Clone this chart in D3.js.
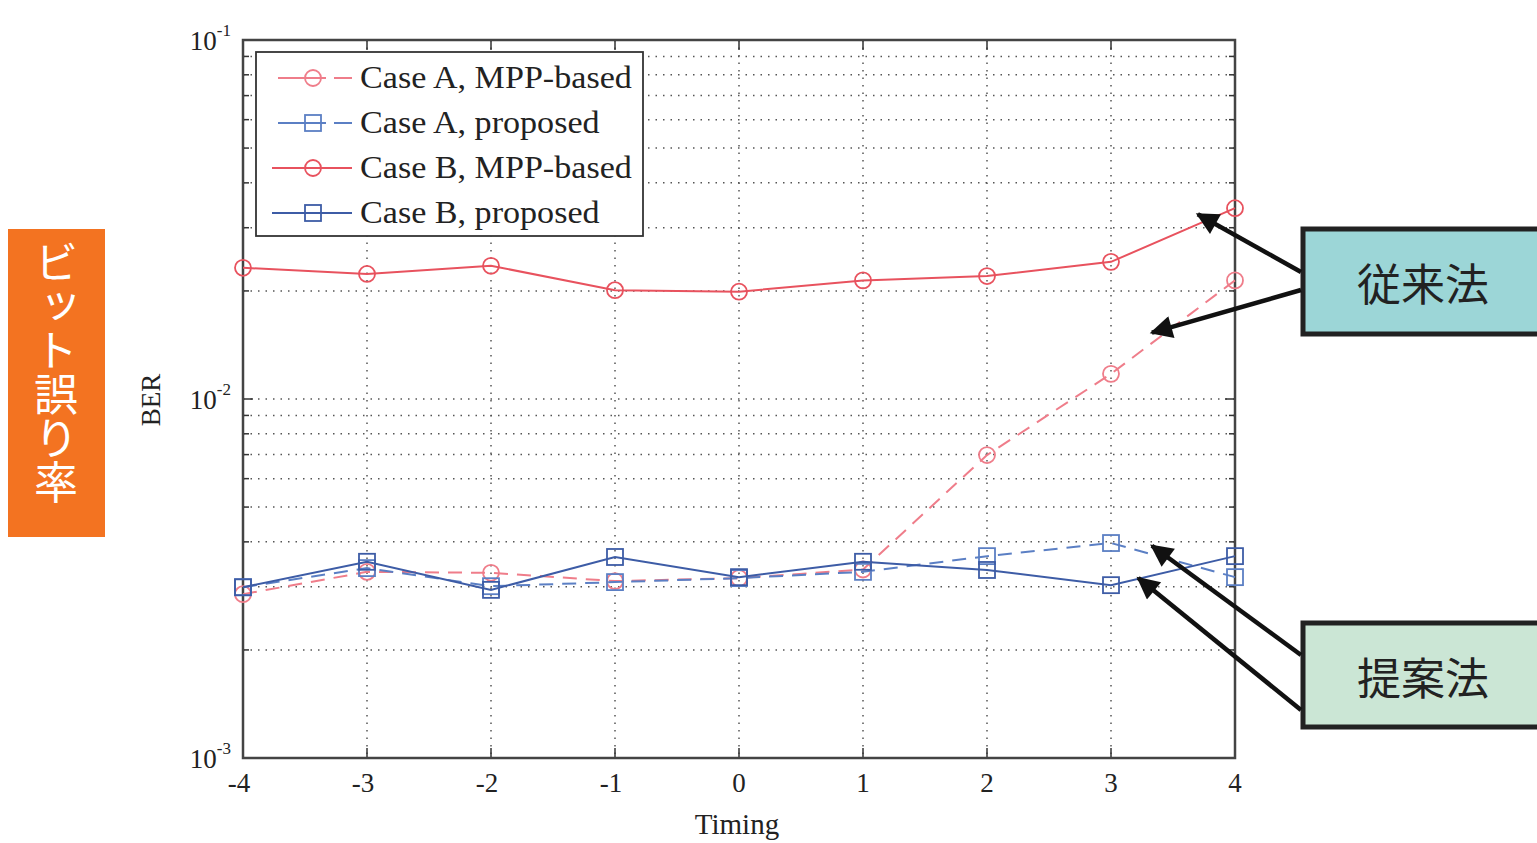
<!DOCTYPE html>
<html><head><meta charset="utf-8">
<script src="https://cdn.jsdelivr.net/npm/d3@7"></script>
<style>html,body{margin:0;padding:0;background:#fff;}svg{display:block;}</style>
</head><body>
<svg id="c" width="1537" height="843"></svg>
<script>
const timing = [-4,-3,-2,-1,0,1,2,3,4];
const caseA_MPP = [0.00286,0.00330,0.00328,0.00311,0.00317,0.00335,0.00698,0.01175,0.0214];
const caseA_prop = [0.00299,0.00338,0.00301,0.00309,0.00317,0.00330,0.00365,0.00397,0.00319];
const caseB_MPP = [0.0232,0.0223,0.0235,0.0201,0.0199,0.0214,0.0220,0.0241,0.0340];
const caseB_prop = [0.00299,0.00352,0.00294,0.00363,0.00319,0.00352,0.00334,0.00303,0.00365];
const xTicks = [-4,-3,-2,-1,0,1,2,3,4];
const yMajor = [1e-3,1e-2,1e-1];
const yExp = ["-3","-2","-1"];
const seriesNames = ["Case A, MPP-based","Case A, proposed","Case B, MPP-based","Case B, proposed"];
const xLabel = "Timing", yLabel = "BER";
const sideLabel = "ビット誤り率";
const annConv = "従来法", annProp = "提案法";
// arrow targets in data coordinates
const convTargets = [[3.70,0.0327],[3.33,0.0153]];
const propTargets = [[3.33,0.0039],[3.22,0.00317]];

const svg = d3.select("#c");
const L=243,R=1235,T=40,B=758;
const x = d3.scaleLinear().domain([-4,4]).range([L,R]);
const y = d3.scaleLog().domain([1e-3,1e-1]).range([B,T]);

const minor = [];
for (let e=-3;e<=-2;e++) for (let m=2;m<=9;m++) minor.push(m*Math.pow(10,e));
const allY = minor.concat([1e-2]);

const g = svg.append("g");
// grid
g.selectAll(".vg").data(xTicks.slice(1,-1)).enter().append("line")
 .attr("x1",d=>x(d)).attr("x2",d=>x(d)).attr("y1",T).attr("y2",B)
 .attr("stroke","#555").attr("stroke-width",1.5).attr("stroke-dasharray","1.5,6");
g.selectAll(".hg").data(allY).enter().append("line")
 .attr("x1",L).attr("x2",R).attr("y1",d=>y(d)).attr("y2",d=>y(d))
 .attr("stroke","#555").attr("stroke-width",1.5).attr("stroke-dasharray","1.5,6");

// ticks inward
const tk = svg.append("g").attr("stroke","#333").attr("stroke-width",1.5);
xTicks.forEach(d=>{
  tk.append("line").attr("x1",x(d)).attr("x2",x(d)).attr("y1",B).attr("y2",B-10);
  tk.append("line").attr("x1",x(d)).attr("x2",x(d)).attr("y1",T).attr("y2",T+10);
});
minor.concat(yMajor).forEach(d=>{
  const len = yMajor.includes(d)?10:6;
  tk.append("line").attr("x1",L).attr("x2",L+len).attr("y1",y(d)).attr("y2",y(d));
  tk.append("line").attr("x1",R).attr("x2",R-len).attr("y1",y(d)).attr("y2",y(d));
});
// box
svg.append("rect").attr("x",L).attr("y",T).attr("width",R-L).attr("height",B-T)
 .attr("fill","none").attr("stroke","#444").attr("stroke-width",2.5);

// tick labels
const font = "'Liberation Serif','DejaVu Serif',serif";
svg.selectAll(".xl").data(xTicks).enter().append("text")
 .attr("x",d=>x(d)-(d<0?4:0)).attr("y",B+34).attr("text-anchor","middle")
 .attr("font-family",font).attr("font-size",27).attr("fill","#222")
 .text(d=>String(d));
yMajor.forEach((d,i)=>{
  const t = svg.append("text").attr("x",L-12).attr("y",y(d)+10).attr("text-anchor","end")
   .attr("font-family",font).attr("font-size",27).attr("fill","#222");
  t.append("tspan").text("10");
  t.append("tspan").attr("dy",-14).attr("font-size",17).text(yExp[i]);
});
svg.append("text").attr("x",737).attr("y",834).attr("text-anchor","middle")
 .attr("font-family",font).attr("font-size",29).attr("fill","#222").text(xLabel);
svg.append("text").attr("transform",`translate(160,400) rotate(-90)`).attr("text-anchor","middle")
 .attr("font-family",font).attr("font-size",27).attr("fill","#222").text(yLabel);

// series
const red="#e8525e", redA="#ef7d8a", blue="#3d5ca6", blueA="#5b7fc4";
const series = [
 {vals:caseA_MPP,color:redA,dash:"14,9",mk:"circle"},
 {vals:caseA_prop,color:blueA,dash:"14,9",mk:"square"},
 {vals:caseB_MPP,color:red,dash:null,mk:"circle"},
 {vals:caseB_prop,color:blue,dash:null,mk:"square"}
];
const line = d3.line().x((d,i)=>x(timing[i])).y(d=>y(d));
const pg = svg.append("g");
function drawMarker(sel,type,cx,cy,color){
  if(type==="circle") sel.append("circle").attr("cx",cx).attr("cy",cy).attr("r",8)
    .attr("fill","none").attr("stroke",color).attr("stroke-width",1.8);
  else sel.append("rect").attr("x",cx-8).attr("y",cy-8).attr("width",16).attr("height",16)
    .attr("fill","none").attr("stroke",color).attr("stroke-width",1.8);
}
series.forEach(s=>{
  pg.append("path").attr("d",line(s.vals)).attr("fill","none").attr("stroke",s.color)
   .attr("stroke-width",2).attr("stroke-dasharray",s.dash);
  s.vals.forEach((v,i)=>drawMarker(pg,s.mk,x(timing[i]),y(v),s.color));
});

// legend
const lg = svg.append("g");
lg.append("rect").attr("x",256).attr("y",52).attr("width",387).attr("height",184)
 .attr("fill","#fff").attr("stroke","#333").attr("stroke-width",1.8);
series.forEach((s,i)=>{
  const cy = 78+i*45;
  if(s.dash){
    lg.append("line").attr("x1",278).attr("x2",300).attr("y1",cy).attr("y2",cy).attr("stroke",s.color).attr("stroke-width",2);
    lg.append("line").attr("x1",300).attr("x2",326).attr("y1",cy).attr("y2",cy).attr("stroke",s.color).attr("stroke-width",2);
    lg.append("line").attr("x1",334).attr("x2",352).attr("y1",cy).attr("y2",cy).attr("stroke",s.color).attr("stroke-width",2);
  } else {
    lg.append("line").attr("x1",272).attr("x2",352).attr("y1",cy).attr("y2",cy).attr("stroke",s.color).attr("stroke-width",2);
  }
  drawMarker(lg,s.mk,313,cy,s.color);
  const t = lg.append("text").attr("x",360).attr("y",cy+10).attr("font-family",font).attr("font-size",31)
   .attr("fill","#222").text(seriesNames[i]);
  const w = t.node().getComputedTextLength();
  t.attr("textLength",w*1.1).attr("lengthAdjust","spacingAndGlyphs");
});

// side label
svg.append("rect").attr("x",8).attr("y",229).attr("width",97).attr("height",308).attr("fill","#f37321");
const jp = "'Noto Sans CJK JP','Noto Sans',sans-serif";
svg.append("text").attr("x",56).attr("y",240)
 .attr("writing-mode","vertical-rl").style("text-orientation","upright")
 .attr("font-family",jp).attr("font-size",44).attr("fill","#fff").text(sideLabel);

// annotation boxes
svg.append("rect").attr("x",1303).attr("y",229).attr("width",240).attr("height",105)
 .attr("fill","#9cd6d7").attr("stroke","#222").attr("stroke-width",5);
svg.append("text").attr("x",1423).attr("y",301).attr("text-anchor","middle")
 .attr("font-family",jp).attr("font-size",44).attr("fill","#222").text(annConv);
svg.append("rect").attr("x",1303).attr("y",623).attr("width",240).attr("height",104)
 .attr("fill","#cbe6d5").attr("stroke","#222").attr("stroke-width",5);
svg.append("text").attr("x",1423).attr("y",695).attr("text-anchor","middle")
 .attr("font-family",jp).attr("font-size",44).attr("fill","#222").text(annProp);

// arrows
const defs = svg.append("defs");
defs.append("marker").attr("id","ah").attr("viewBox","0 0 10 10").attr("refX",9).attr("refY",5)
 .attr("markerWidth",6).attr("markerHeight",5).attr("markerUnits","strokeWidth").attr("orient","auto")
 .append("path").attr("d","M0,0 L10,5 L0,10 z").attr("fill","#111");
function arrow(x0,y0,t){
  svg.append("line").attr("x1",x0).attr("y1",y0).attr("x2",x(t[0])).attr("y2",y(t[1]))
   .attr("stroke","#111").attr("stroke-width",4.5).attr("marker-end","url(#ah)");
}
arrow(1301,272,convTargets[0]);
arrow(1301,290,convTargets[1]);
arrow(1301,655,propTargets[0]);
arrow(1301,710,propTargets[1]);
</script>
</body></html>
